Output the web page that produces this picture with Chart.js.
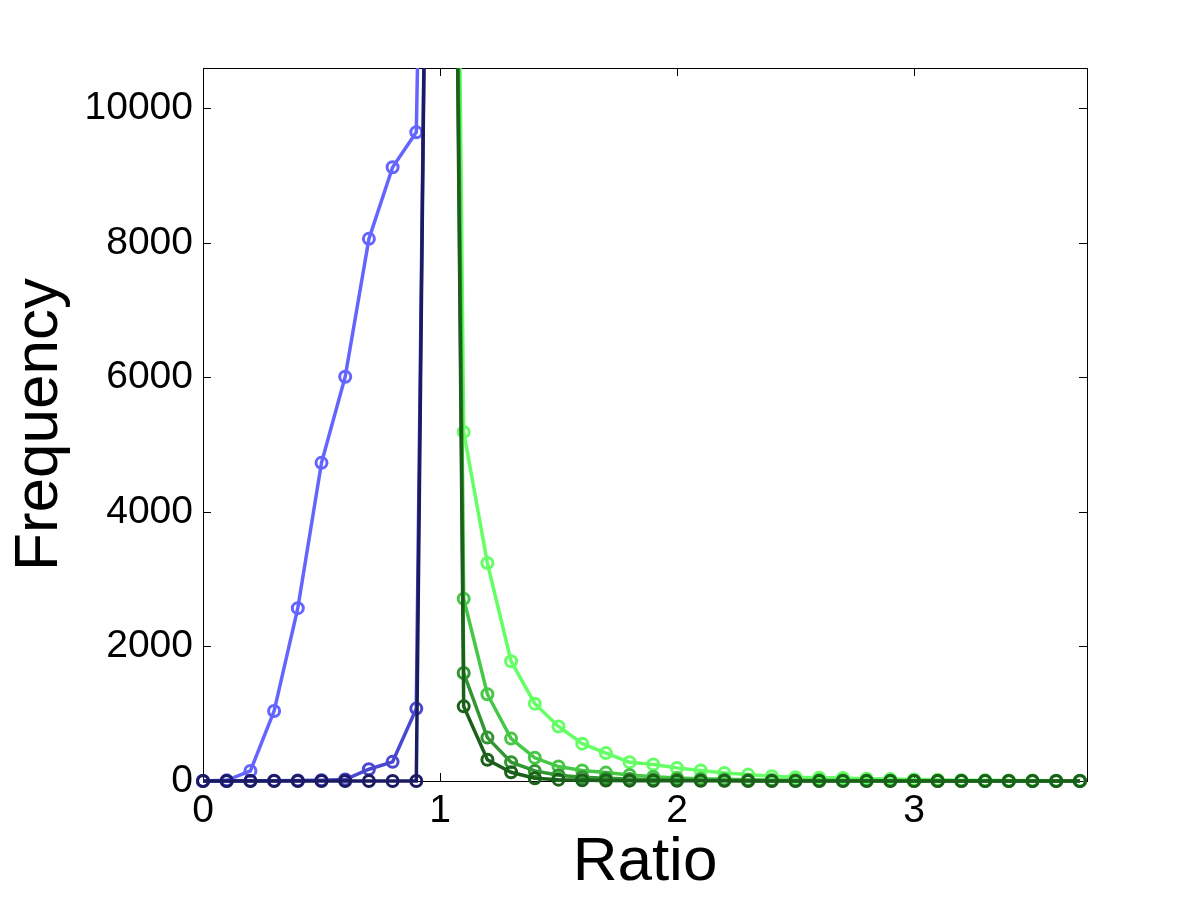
<!DOCTYPE html>
<html>
<head>
<meta charset="utf-8">
<script src="https://cdn.jsdelivr.net/npm/chart.js@4"></script>
<style>
  body { margin: 0; background: #fff; }
  canvas { display: block; }
</style>
</head>
<body>
<canvas id="ratioChart" width="1200" height="900"></canvas>
<script>
// bin centres
const ratioBlue = [0, 0.1, 0.2, 0.3, 0.4, 0.5, 0.6, 0.7, 0.8, 0.9, 1.0];
const ratioGreen = [1.0, 1.1, 1.2, 1.3, 1.4, 1.5, 1.6, 1.7, 1.8, 1.9, 2.0, 2.1, 2.2, 2.3,
    2.4, 2.5, 2.6, 2.7, 2.8, 2.9, 3.0, 3.1, 3.2, 3.3, 3.4, 3.5, 3.6, 3.7];

// frequencies below 1 (blues), the value at 1.0 runs far off the top
const blueLight = [0, 10, 150, 1040, 2570, 4730, 6010, 8060, 9125, 9645, 29000];
const blueMid = [0, 0, 2, 5, 8, 12, 22, 175, 285, 1076, 31000];
const blueDark = [0, 0, 0, 0, 0, 0, 0, 0, 0, 0, 33000];

// frequencies above 1 (greens)
const greenLight = [40000, 5190, 3240, 1780, 1150, 810, 555, 415, 280, 245, 195, 155, 120, 95,
    70, 55, 50, 45, 35, 28, 22, 17, 13, 10, 8, 6, 5, 4];
const greenMid = [39000, 2710, 1290, 630, 345, 215, 155, 125, 90, 65, 45, 35, 25, 20,
    15, 12, 10, 8, 6, 5, 4, 3, 2, 2, 1, 1, 1, 1];
const greenDeep = [38500, 1605, 645, 280, 150, 85, 55, 40, 28, 20, 14, 10, 8, 6,
    5, 4, 3, 3, 2, 2, 1, 1, 1, 1, 1, 0, 0, 0];
const greenDark = [38500, 1110, 315, 130, 40, 20, 12, 8, 5, 4, 3, 2, 2, 1,
    1, 1, 0, 0, 0, 0, 0, 0, 0, 0, 0, 0, 0, 0];

const xTicks = [0, 1, 2, 3];
const yTicks = [0, 2000, 4000, 6000, 8000, 10000];

const fontFamily = '"Liberation Sans", Arial, sans-serif';

function makeSeries(xs, ys, color) {
    return {
        data: xs.map((x, i) => ({ x: x, y: ys[i] })),
        borderColor: color,
        backgroundColor: 'rgba(0,0,0,0)',
        borderWidth: 3.5,
        pointRadius: 5.5,
        pointBorderWidth: 3,
        pointBorderColor: color,
        pointBackgroundColor: 'rgba(0,0,0,0)',
        tension: 0,
        clip: { left: 10, right: 10, top: 0, bottom: 10 }
    };
}

// first dataset is painted last, so darkest ones go first
const datasets = [
    makeSeries(ratioBlue, blueDark, 'rgb(27,27,100)'),
    makeSeries(ratioBlue, blueMid, 'rgb(72,72,208)'),
    makeSeries(ratioBlue, blueLight, 'rgb(100,100,255)'),
    makeSeries(ratioGreen, greenDark, 'rgb(26,96,26)'),
    makeSeries(ratioGreen, greenDeep, 'rgb(50,150,50)'),
    makeSeries(ratioGreen, greenMid, 'rgb(70,200,70)'),
    makeSeries(ratioGreen, greenLight, 'rgb(100,255,100)')
];

// box round the plot and inward tick marks on all four sides
const boxPlugin = {
    id: 'boxPlugin',
    beforeDatasetsDraw(chart) {
        const { ctx, chartArea: a, scales } = chart;
        const len = 8;
        ctx.save();
        ctx.strokeStyle = '#000';
        ctx.lineWidth = 1;
        ctx.strokeRect(a.left + 0.5, a.top + 0.5, a.right - a.left, a.bottom - a.top);
        ctx.beginPath();
        xTicks.forEach(v => {
            const px = Math.round(scales.x.getPixelForValue(v)) + 0.5;
            ctx.moveTo(px, a.bottom);
            ctx.lineTo(px, a.bottom - len);
            ctx.moveTo(px, a.top);
            ctx.lineTo(px, a.top + len);
        });
        yTicks.forEach(v => {
            const py = Math.round(scales.y.getPixelForValue(v)) + 0.5;
            ctx.moveTo(a.left, py);
            ctx.lineTo(a.left + len, py);
            ctx.moveTo(a.right, py);
            ctx.lineTo(a.right - len, py);
        });
        ctx.stroke();
        ctx.restore();
    }
};

new Chart(document.getElementById('ratioChart'), {
    type: 'line',
    data: { datasets: datasets },
    plugins: [boxPlugin],
    options: {
        responsive: false,
        animation: false,
        layout: { padding: { left: 0, top: 68, right: 113, bottom: 0 } },
        plugins: {
            legend: { display: false },
            tooltip: { enabled: false }
        },
        scales: {
            x: {
                type: 'linear',
                min: 0,
                max: 3.73,
                afterFit: (scale) => { scale.height = 119; },
                afterBuildTicks: (scale) => { scale.ticks = xTicks.map(v => ({ value: v })); },
                grid: { display: false, drawTicks: false },
                border: { display: false },
                ticks: {
                    padding: 7,
                    color: '#000',
                    callback: (v) => String(v),
                    font: { family: fontFamily, size: 39 }
                },
                title: {
                    display: true,
                    text: 'Ratio',
                    color: '#000',
                    padding: { top: 0, bottom: 0 },
                    font: { family: fontFamily, size: 62 }
                }
            },
            y: {
                type: 'linear',
                min: 0,
                max: 10600,
                afterFit: (scale) => { scale.width = 203; },
                afterBuildTicks: (scale) => { scale.ticks = yTicks.map(v => ({ value: v })); },
                grid: { display: false, drawTicks: false },
                border: { display: false },
                ticks: {
                    padding: 10,
                    color: '#000',
                    callback: (v) => String(v),
                    font: { family: fontFamily, size: 39 }
                },
                title: {
                    display: true,
                    text: 'Frequency',
                    color: '#000',
                    padding: { top: 3, bottom: 0 },
                    font: { family: fontFamily, size: 62 }
                }
            }
        }
    }
});
</script>
</body>
</html>
